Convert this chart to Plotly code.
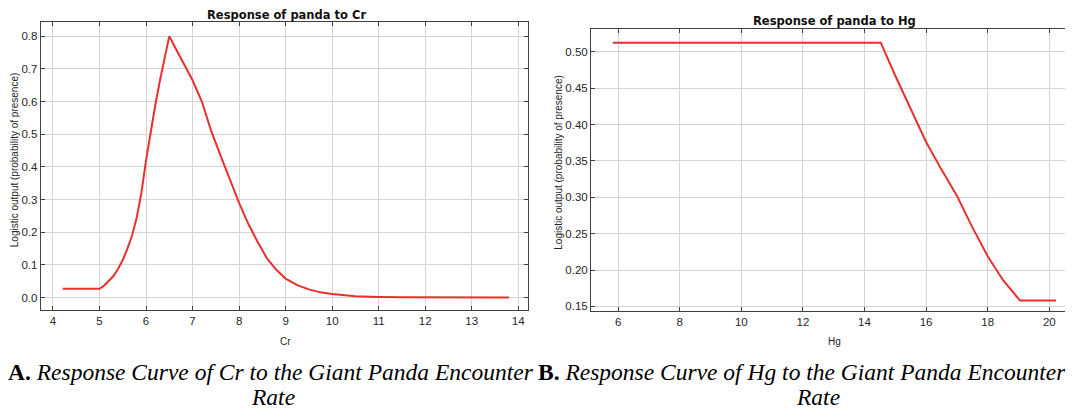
import plotly.graph_objects as go

# ---- data ----
cr_x = [4.21, 5.0, 5.1, 5.2, 5.3, 5.4, 5.5, 5.6, 5.7, 5.8, 5.9, 6.0, 6.1, 6.2, 6.3, 6.4, 6.45, 6.5,
        6.6, 6.7, 6.8, 6.9, 7.0, 7.2, 7.4, 7.6, 7.8, 8.0, 8.2, 8.4, 8.6, 8.8, 9.0, 9.25, 9.5,
        9.75, 10.0, 10.25, 10.5, 11.0, 11.5, 13.8]
cr_y = [0.027, 0.027, 0.037, 0.05, 0.066, 0.088, 0.115, 0.15, 0.19, 0.245, 0.32, 0.42, 0.51, 0.59,
        0.665, 0.735, 0.77, 0.80,
        0.772, 0.745, 0.717, 0.693, 0.665, 0.60, 0.51, 0.435, 0.36, 0.29, 0.225, 0.17, 0.12, 0.085,
        0.058, 0.038, 0.025, 0.016, 0.011, 0.007, 0.004, 0.002, 0.001, 0.0]

hg_x = [5.83, 14.53, 15.0, 15.5, 16.0, 16.5, 17.0, 17.5, 18.0, 18.5, 19.05, 20.22]
hg_y = [0.5125, 0.5125, 0.467, 0.421, 0.376, 0.338, 0.302, 0.259, 0.219, 0.186, 0.158, 0.158]

cr_xticks = [4, 5, 6, 7, 8, 9, 10, 11, 12, 13, 14]
cr_yticks = [0.0, 0.1, 0.2, 0.3, 0.4, 0.5, 0.6, 0.7, 0.8]
hg_xticks = [6, 8, 10, 12, 14, 16, 18, 20]
hg_yticks = [0.15, 0.20, 0.25, 0.30, 0.35, 0.40, 0.45, 0.50]

title_a = "Response of panda to Cr"
title_b = "Response of panda to Hg"
ylabel = "Logistic output (probability of presence)"
caption_a1 = "<b>A.</b> <i>Response Curve of Cr to the Giant Panda Encounter</i>"
caption_b1 = "<b>B.</b> <i>Response Curve of Hg to the Giant Panda Encounter</i>"
caption_2 = "<i>Rate</i>"

# the page body adds an 8px margin, so the figure is drawn 8px smaller and
# every reference pixel position is shifted by that offset
OFF = 8
W, H = 1073 - OFF, 410 - OFF
RED = "#e8302f"
GRID = "#d4d4d4"
AX = "#404040"
TXT = "#262626"
SANS = "Liberation Sans, Arial, sans-serif"
SERIF = "Liberation Serif, Times New Roman, serif"


def px(x):
    return (x - OFF) / W


def py(y):
    return 1 - (y - OFF) / H


fig = go.Figure()
fig.add_trace(go.Scatter(x=cr_x, y=cr_y, mode="lines", line=dict(color=RED, width=2),
                         xaxis="x", yaxis="y", showlegend=False, hoverinfo="skip"))
fig.add_trace(go.Scatter(x=hg_x, y=hg_y, mode="lines", line=dict(color=RED, width=2),
                         xaxis="x2", yaxis="y2", showlegend=False, hoverinfo="skip"))

common = dict(showgrid=True, gridcolor=GRID, gridwidth=1, zeroline=False, showline=True,
              linecolor=AX, linewidth=1, ticks="inside", ticklen=4, tickcolor=AX,
              tickfont=dict(family=SANS, size=11.5, color=TXT), fixedrange=True)

fig.update_layout(
    width=W, height=H,
    margin=dict(l=0, r=0, t=0, b=0),
    paper_bgcolor="white", plot_bgcolor="white",
    xaxis=dict(domain=[px(40.7), px(528)], range=[3.736, 14.21], tickvals=cr_xticks,
               mirror="allticks", anchor="y", **common),
    yaxis=dict(domain=[py(311.5), py(22.5)], range=[-0.038, 0.842], tickvals=cr_yticks,
               tickformat=".1f", mirror="allticks", anchor="x", **common),
    xaxis2=dict(domain=[px(591), 1.0], range=[5.12, 20.77], tickvals=hg_xticks,
                mirror="allticks", anchor="y2", **common),
    yaxis2=dict(domain=[py(312.3), py(29.3)], range=[0.144, 0.531], tickvals=hg_yticks,
                tickformat=".2f", mirror=False, anchor="x2", **common),
)

ann = []
# chart titles
ann.append(dict(x=px(286), y=py(15), text=f"<b>{title_a}</b>",
                font=dict(family="DejaVu Sans", size=11.5, color="#111")))
ann.append(dict(x=px(834), y=py(21), text=f"<b>{title_b}</b>",
                font=dict(family="DejaVu Sans", size=11.5, color="#111")))
# y labels
ann.append(dict(x=px(14), y=py(161), text=ylabel, textangle=-90,
                font=dict(family=SANS, size=10, color=TXT)))
ann.append(dict(x=px(558.5), y=py(163), text=ylabel, textangle=-90,
                font=dict(family=SANS, size=10, color=TXT)))
# x labels
ann.append(dict(x=px(285), y=py(343), text="Cr", font=dict(family=SANS, size=10, color=TXT)))
ann.append(dict(x=px(834), y=py(343), text="Hg", font=dict(family=SANS, size=10, color=TXT)))
# captions
cap_font = dict(family=SERIF, size=23.5, color="#000")
ann.append(dict(x=px(271), y=py(374), text=caption_a1, font=cap_font))
ann.append(dict(x=px(273), y=py(399), text=caption_2, font=cap_font))
ann.append(dict(x=px(802), y=py(374), text=caption_b1, font=cap_font))
ann.append(dict(x=px(818), y=py(399), text=caption_2, font=cap_font))

for a in ann:
    a.update(xref="paper", yref="paper", showarrow=False, xanchor="center", yanchor="middle",
             borderpad=0)
fig.update_layout(annotations=ann)

fig.write_html("out.html")
